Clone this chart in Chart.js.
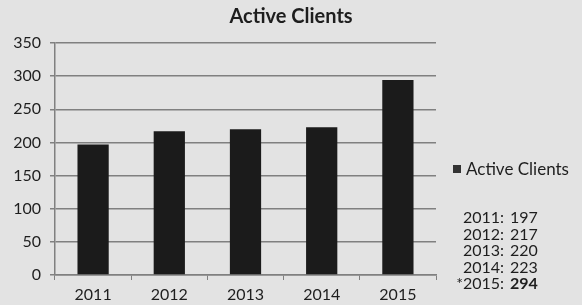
<!DOCTYPE html>
<html>
<head>
<meta charset="utf-8">
<script src="https://cdn.jsdelivr.net/npm/chart.js@4/dist/chart.umd.min.js"></script>
<style>
    html, body { margin: 0; padding: 0; background: #e3e3e3; }
    #wrap { width: 582px; height: 305px; position: relative; }
</style>
</head>
<body>
<div id="wrap"><canvas id="clientsChart"></canvas></div>
<script>
// Chart data
const years = ['2011', '2012', '2013', '2014', '2015'];
const activeClients = [197, 217, 220, 223, 294];
const yearMarks = ['', '', '', '', '*'];   // asterisk note on the last year
const boldValues = [false, false, false, false, true];
const seriesName = 'Active Clients';
const chartTitle = 'Active Clients';
const yMin = 0;
const yMax = 350;
const yStep = 50;

const FONT = 'Lato, "DejaVu Sans", sans-serif';
const TEXT = '#1e1e1e';
const GRID = '#808080';
const BAR = '#1b1b1b';

/**
 * Title centred on the whole canvas, legend entry and value list on the right
 */
const sideNotes = {
    id: 'sideNotes',
    afterDraw(chart) {
        const ctx = chart.ctx;
        const x0 = chart.chartArea.right + 17;
        ctx.save();
        ctx.fillStyle = TEXT;
        ctx.textBaseline = 'middle';

        // title
        ctx.font = 'bold 20px ' + FONT;
        ctx.textAlign = 'center';
        ctx.fillText(chartTitle, chart.width / 2, 17);

        // legend
        ctx.fillStyle = '#333';
        ctx.fillRect(x0, 165, 8, 8);
        ctx.fillStyle = TEXT;
        ctx.font = '17px ' + FONT;
        ctx.textAlign = 'left';
        ctx.fillText(seriesName, x0 + 13, 170);

        // value list
        years.forEach((year, i) => {
            const y = 218 + i * 16.5;
            ctx.font = '16px ' + FONT;
            ctx.textAlign = 'right';
            ctx.fillText(yearMarks[i], x0 + 10, y);
            ctx.textAlign = 'left';
            ctx.fillText(year + ':', x0 + 10, y);
            ctx.font = (boldValues[i] ? 'bold ' : '') + '16px ' + FONT;
            ctx.fillText(String(activeClients[i]), x0 + 57, y);
        });

        ctx.restore();
    }
};

const ctx = document.getElementById('clientsChart');

new Chart(ctx, {
    type: 'bar',
    data: {
        labels: years,
        datasets: [{
            label: seriesName,
            data: activeClients,
            backgroundColor: BAR,
            borderWidth: 0,
            barPercentage: 0.41,
            categoryPercentage: 1.0,
        }]
    },
    options: {
        responsive: true,
        maintainAspectRatio: false,
        animation: false,
        layout: {
            padding: { left: 0, right: 146, top: 43, bottom: 0 }
        },
        plugins: {
            legend: { display: false },
            tooltip: { enabled: false },
            title: { display: false }
        },
        scales: {
            x: {
                grid: {
                    display: true,
                    drawOnChartArea: false,
                    drawTicks: true,
                    tickLength: 5,
                    color: GRID,
                    offset: true
                },
                border: { display: true, color: GRID, width: 1.5 },
                ticks: {
                    color: TEXT,
                    padding: 5,
                    font: { family: FONT, size: 16 }
                },
                afterFit(scale) { scale.height = 30; }
            },
            y: {
                min: yMin,
                max: yMax,
                grid: {
                    color: GRID,
                    lineWidth: 1.5,
                    tickLength: 5
                },
                border: { display: true, color: GRID, width: 1.5 },
                ticks: {
                    stepSize: yStep,
                    color: TEXT,
                    padding: 9,
                    font: { family: FONT, size: 16 }
                },
                afterFit(scale) { scale.width = 55; }
            }
        }
    },
    plugins: [sideNotes]
});
</script>
</body>
</html>
